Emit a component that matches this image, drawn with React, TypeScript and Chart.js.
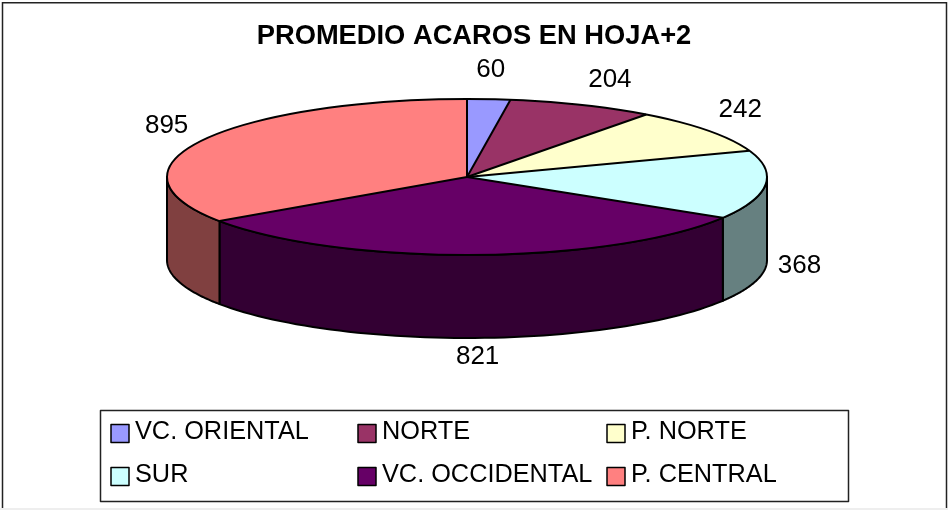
import React, { useEffect, useRef } from "react";
import { Chart, registerables } from "chart.js";

Chart.register(...registerables);

const titleText = "PROMEDIO ACAROS EN HOJA+2";
const categories = ["VC. ORIENTAL", "NORTE", "P. NORTE", "SUR", "VC. OCCIDENTAL", "P. CENTRAL"];
const values = [60, 204, 242, 368, 821, 895];
const topColors = ["#9999FF", "#993366", "#FFFFCC", "#CCFFFF", "#660066", "#FF8080"];
const wallColors = ["#4D4D80", "#4D1A33", "#808066", "#668080", "#330033", "#804040"];
const labelNudges = [[2, -29], [28, -25], [32, -21], [34, 81], [3, 102], [-35, -15]];

const FONT = '"Liberation Sans", Arial, sans-serif';
const CX = 467, CY = 177, RX = 300, RY = 78, DEPTH = 83;
const LABEL_SIZE = 26, LEGEND_SIZE = 25.3;

const px = (a: number) => CX + RX * Math.cos(a);
const py = (a: number) => CY + RY * Math.sin(a);

const pie3d = {
  id: "pie3d",
  beforeDraw(chart: any) {
    const ctx = chart.ctx;
    ctx.save();
    ctx.fillStyle = "#FFFFFF";
    ctx.fillRect(0, 0, 948, 510);
    ctx.fillStyle = "#EEEEEE";
    ctx.fillRect(0, 508, 948, 2);
    ctx.strokeStyle = "#222222";
    ctx.lineWidth = 1.5;
    ctx.beginPath();
    ctx.moveTo(2.5, 508);
    ctx.lineTo(2.5, 2.75);
    ctx.lineTo(946.5, 2.75);
    ctx.lineTo(946.5, 508);
    ctx.stroke();
    ctx.restore();
  },
  beforeDatasetsDraw(chart: any) {
    const ctx = chart.ctx;
    const arcs = chart.getDatasetMeta(0).data;
    // side walls: only the front half of the rim shows
    ctx.save();
    ctx.lineWidth = 2;
    ctx.strokeStyle = "#000000";
    ctx.lineJoin = "round";
    arcs.forEach((arc: any, i: number) => {
      for (const shift of [0, 2 * Math.PI]) {
        const a = Math.max(arc.startAngle, shift);
        const b = Math.min(arc.endAngle, shift + Math.PI);
        if (b <= a) continue;
        ctx.beginPath();
        const steps = 60;
        for (let k = 0; k <= steps; k++) {
          const t = a + ((b - a) * k) / steps;
          if (k === 0) ctx.moveTo(px(t), py(t));
          else ctx.lineTo(px(t), py(t));
        }
        for (let k = steps; k >= 0; k--) {
          const t = a + ((b - a) * k) / steps;
          ctx.lineTo(px(t), py(t) + DEPTH);
        }
        ctx.closePath();
        ctx.fillStyle = wallColors[i];
        ctx.fill();
        ctx.stroke();
      }
    });
    ctx.restore();
    // squash the library's circular arcs into the disc's ellipse
    const first = arcs[0];
    ctx.save();
    ctx.translate(CX, CY);
    ctx.scale(RX / first.outerRadius, RY / first.outerRadius);
    ctx.translate(-first.x, -first.y);
  },
  afterDatasetsDraw(chart: any) {
    const ctx = chart.ctx;
    ctx.restore();
    const arcs = chart.getDatasetMeta(0).data;
    ctx.save();
    ctx.lineWidth = 2;
    ctx.strokeStyle = "#000000";
    ctx.lineJoin = "round";
    ctx.beginPath();
    ctx.ellipse(CX, CY, RX, RY, 0, 0, 2 * Math.PI);
    ctx.stroke();
    arcs.forEach((arc: any) => {
      ctx.beginPath();
      ctx.moveTo(CX, CY);
      ctx.lineTo(px(arc.startAngle), py(arc.startAngle));
      ctx.stroke();
    });
    // value labels
    ctx.fillStyle = "#000000";
    ctx.font = `${LABEL_SIZE}px ${FONT}`;
    ctx.textAlign = "center";
    ctx.textBaseline = "middle";
    arcs.forEach((arc: any, i: number) => {
      const m = (arc.startAngle + arc.endAngle) / 2;
      ctx.fillText(String(values[i]), px(m) + labelNudges[i][0], py(m) + labelNudges[i][1]);
    });
    // legend
    const colX = [111, 358, 607];
    const rowY = [433.5, 476.5];
    ctx.fillStyle = "#FFFFFF";
    ctx.strokeStyle = "#222222";
    ctx.lineWidth = 1.5;
    ctx.fillRect(100.5, 410.5, 748, 91);
    ctx.strokeRect(100.5, 410.5, 748, 91);
    ctx.font = `${LEGEND_SIZE}px ${FONT}`;
    ctx.textAlign = "left";
    categories.forEach((c, i) => {
      const x = colX[i % 3];
      const y = rowY[Math.floor(i / 3)];
      ctx.fillStyle = topColors[i];
      ctx.fillRect(x, y - 9, 18, 18);
      ctx.strokeStyle = "#000000";
      ctx.lineWidth = 1.5;
      ctx.strokeRect(x, y - 9, 18, 18);
      ctx.fillStyle = "#000000";
      ctx.fillText(c, x + 24, y - 1.5);
    });
    ctx.restore();
  },
};

export default function App() {
  const ref = useRef<HTMLCanvasElement>(null);
  useEffect(() => {
    const chart = new Chart(ref.current as HTMLCanvasElement, {
      type: "pie",
      data: {
        labels: categories,
        datasets: [{ data: values, backgroundColor: topColors, borderWidth: 0, clip: false } as any],
      },
      options: {
        responsive: false,
        animation: false,
        radius: 300,
        layout: { padding: 0 },
        plugins: {
          legend: { display: false },
          tooltip: { enabled: false },
          title: {
            display: true,
            text: titleText,
            color: "#000000",
            font: { family: FONT, size: 27.3, weight: "bold" },
            padding: { top: 20, bottom: 10 },
          },
        },
      } as any,
      plugins: [pie3d],
    });
    return () => chart.destroy();
  }, []);
  return (
    <canvas
      ref={ref}
      width={948}
      height={510}
      style={{ position: "absolute", left: 0, top: 0, display: "block", width: 948, height: 510 }}
    />
  );
}
